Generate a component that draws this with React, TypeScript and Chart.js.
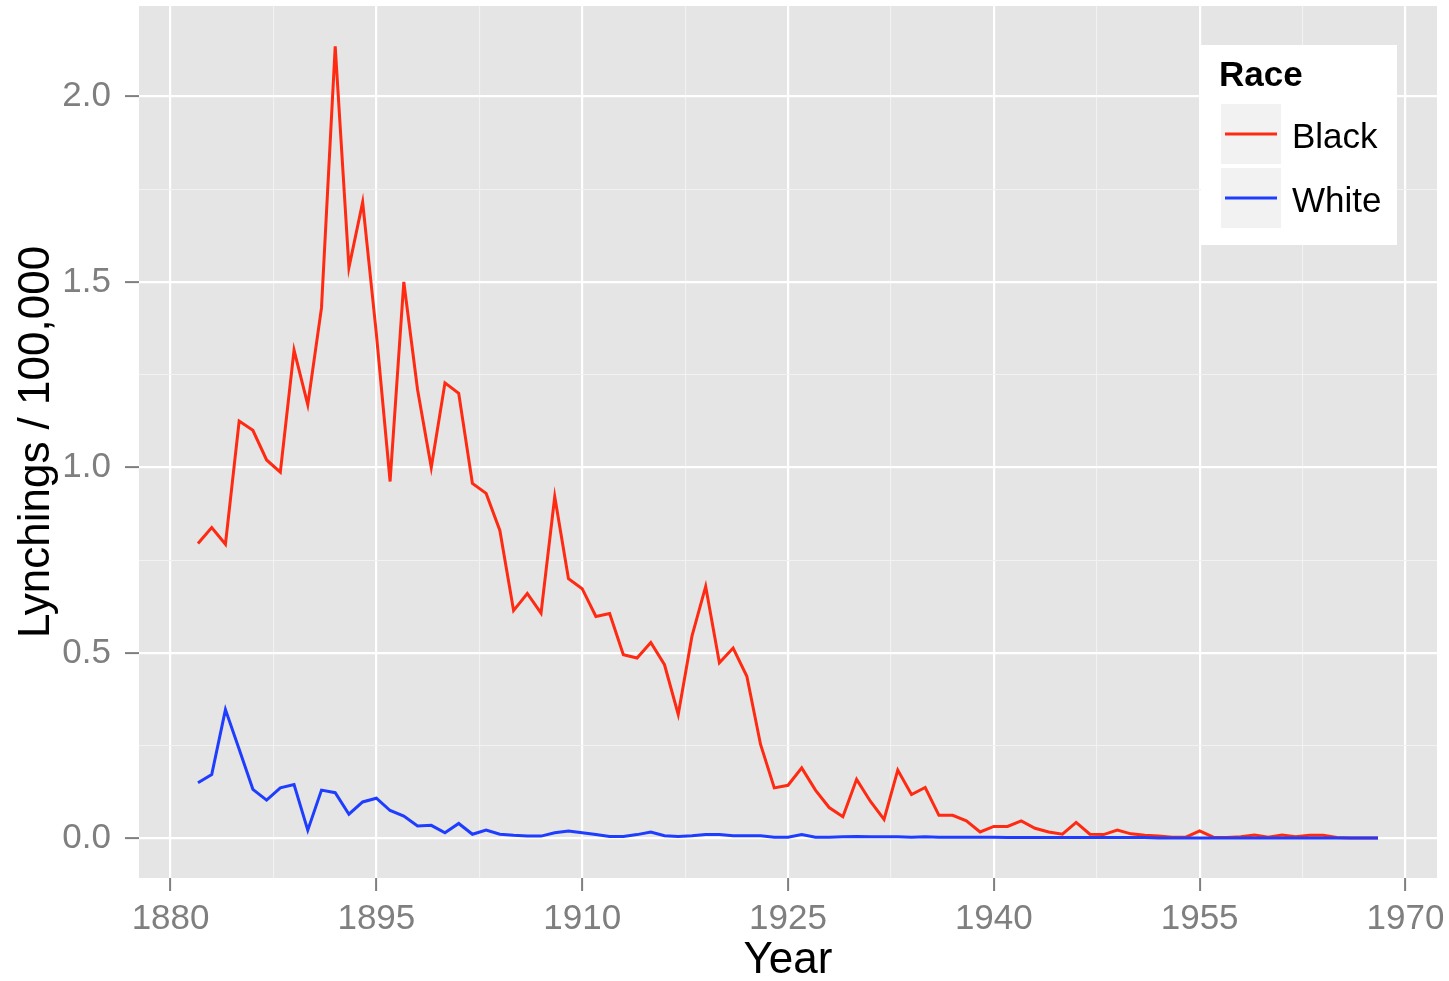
import React, { useEffect, useRef } from "react";
import { Chart, registerables } from "chart.js";

Chart.register(...registerables);

const years = [
  1882, 1883, 1884, 1885, 1886, 1887, 1888, 1889, 1890, 1891,
  1892, 1893, 1894, 1895, 1896, 1897, 1898, 1899, 1900, 1901,
  1902, 1903, 1904, 1905, 1906, 1907, 1908, 1909, 1910, 1911,
  1912, 1913, 1914, 1915, 1916, 1917, 1918, 1919, 1920, 1921,
  1922, 1923, 1924, 1925, 1926, 1927, 1928, 1929, 1930, 1931,
  1932, 1933, 1934, 1935, 1936, 1937, 1938, 1939, 1940, 1941,
  1942, 1943, 1944, 1945, 1946, 1947, 1948, 1949, 1950, 1951,
  1952, 1953, 1954, 1955, 1956, 1957, 1958, 1959, 1960, 1961,
  1962, 1963, 1964, 1965, 1966, 1967, 1968,
];

const blackRate = [
  0.795, 0.838, 0.793, 1.125, 1.1, 1.02, 0.987, 1.316, 1.169, 1.43,
  2.135, 1.539, 1.715, 1.36, 0.962, 1.5, 1.21, 1.0, 1.228, 1.2,
  0.957, 0.93, 0.83, 0.614, 0.66, 0.607, 0.921, 0.7, 0.673, 0.598,
  0.606, 0.495, 0.486, 0.528, 0.468, 0.334, 0.545, 0.679, 0.473, 0.513,
  0.437, 0.253, 0.136, 0.143, 0.19, 0.13, 0.083, 0.058, 0.159, 0.1,
  0.051, 0.184, 0.118, 0.137, 0.062, 0.062, 0.047, 0.017, 0.032, 0.032,
  0.047, 0.027, 0.017, 0.011, 0.043, 0.011, 0.01, 0.022, 0.012, 0.008,
  0.006, 0.003, 0.003, 0.02, 0.003, 0.002, 0.004, 0.009, 0.003, 0.009,
  0.004, 0.008, 0.008, 0.002, 0.001, 0.001, 0.001,
];

const whiteRate = [
  0.15, 0.172, 0.347, 0.24, 0.132, 0.103, 0.136, 0.145, 0.022, 0.13,
  0.123, 0.065, 0.098, 0.108, 0.075, 0.06, 0.033, 0.035, 0.015, 0.04,
  0.011, 0.022, 0.011, 0.008, 0.006, 0.006, 0.015, 0.02, 0.015, 0.01,
  0.005, 0.005, 0.01, 0.017, 0.007, 0.005, 0.007, 0.01, 0.01, 0.007,
  0.007, 0.007, 0.003, 0.003, 0.01, 0.003, 0.003, 0.004, 0.005, 0.004,
  0.004, 0.004, 0.003, 0.004, 0.003, 0.003, 0.003, 0.003, 0.003, 0.002,
  0.002, 0.002, 0.002, 0.002, 0.002, 0.002, 0.002, 0.002, 0.002, 0.002,
  0.001, 0.001, 0.001, 0.001, 0.001, 0.001, 0.001, 0.001, 0.001, 0.001,
  0.001, 0.001, 0.001, 0.001, 0.001, 0.001, 0.001,
];

const seriesNames = ["Black", "White"];
const seriesColors = ["#FF2A12", "#1F3DFF"];
const legendTitle = "Race";
const xTitle = "Year";
const yTitle = "Lynchings / 100,000";

const xMajorTicks = [1880, 1895, 1910, 1925, 1940, 1955, 1970];
const yMajorTicks = [0, 0.5, 1.0, 1.5, 2.0];

const X_MIN = 1877.7;
const X_MAX = 1972.3;
const Y_MIN = -0.107;
const Y_MAX = 2.244;

const FONT = '"Liberation Sans", Arial, Helvetica, sans-serif';

function withMinors(major: number[]) {
  const out: number[] = [];
  for (let i = 0; i < major.length; i++) {
    out.push(major[i]);
    if (i < major.length - 1) out.push((major[i] + major[i + 1]) / 2);
  }
  return out;
}

const isMajor = (list: number[], v: number) =>
  list.some((m) => Math.abs(m - v) < 1e-9);

const panelBg = {
  id: "panelBg",
  beforeDraw(chart: any) {
    const { ctx, chartArea, width, height } = chart;
    ctx.save();
    ctx.fillStyle = "#FFFFFF";
    ctx.fillRect(0, 0, width, height);
    ctx.fillStyle = "#E5E5E5";
    ctx.fillRect(
      chartArea.left,
      chartArea.top,
      chartArea.right - chartArea.left,
      chartArea.bottom - chartArea.top
    );
    ctx.restore();
  },
};

const ggLegend = {
  id: "ggLegend",
  afterDraw(chart: any) {
    const { ctx } = chart;
    ctx.save();
    ctx.fillStyle = "#FFFFFF";
    ctx.fillRect(1201, 45, 196, 200);
    ctx.fillStyle = "#000000";
    ctx.textBaseline = "alphabetic";
    ctx.textAlign = "left";
    ctx.font = `bold 35px ${FONT}`;
    ctx.fillText(legendTitle, 1219, 86);
    seriesNames.forEach((name, i) => {
      const top = 104 + i * 64;
      ctx.fillStyle = "#F2F2F2";
      ctx.fillRect(1221, top, 60, 60);
      ctx.strokeStyle = seriesColors[i];
      ctx.lineWidth = 3;
      ctx.beginPath();
      ctx.moveTo(1225, top + 30);
      ctx.lineTo(1277, top + 30);
      ctx.stroke();
      ctx.fillStyle = "#000000";
      ctx.font = `35px ${FONT}`;
      ctx.fillText(name, 1292, top + 44);
    });
    ctx.restore();
  },
};

export default function App() {
  const canvasRef = useRef<HTMLCanvasElement | null>(null);

  useEffect(() => {
    const canvas = canvasRef.current;
    if (!canvas) return;
    const xAll = withMinors(xMajorTicks);
    const yAll = withMinors(yMajorTicks);

    const chart = new Chart(canvas, {
      type: "line",
      data: {
        datasets: [
          {
            label: seriesNames[0],
            data: years.map((yr, i) => ({ x: yr, y: blackRate[i] })),
            borderColor: seriesColors[0],
            backgroundColor: seriesColors[0],
            borderWidth: 3,
            pointRadius: 0,
            tension: 0,
            order: 2,
          },
          {
            label: seriesNames[1],
            data: years.map((yr, i) => ({ x: yr, y: whiteRate[i] })),
            borderColor: seriesColors[1],
            backgroundColor: seriesColors[1],
            borderWidth: 3,
            pointRadius: 0,
            tension: 0,
            order: 1,
          },
        ],
      },
      options: {
        responsive: false,
        animation: false,
        devicePixelRatio: 1,
        layout: { padding: { left: 0, top: 6, right: 12, bottom: 0 } },
        plugins: {
          legend: { display: false },
          tooltip: { enabled: false },
        },
        scales: {
          x: {
            type: "linear",
            min: X_MIN,
            max: X_MAX,
            afterBuildTicks: (s: any) => {
              s.ticks = xAll.map((v) => ({ value: v }));
            },
            afterFit: (s: any) => {
              s.height = 103;
              s.paddingLeft = 0;
              s.paddingRight = 0;
            },
            ticks: {
              autoSkip: false,
              maxRotation: 0,
              minRotation: 0,
              padding: 7,
              color: "#7F7F7F",
              font: { family: FONT, size: 35 },
              callback: (v: any) => (isMajor(xMajorTicks, Number(v)) ? String(v) : ""),
            },
            grid: {
              color: (c: any) => (isMajor(xMajorTicks, c.tick?.value) ? "#FFFFFF" : "#F2F2F2"),
              lineWidth: (c: any) => (isMajor(xMajorTicks, c.tick?.value) ? 2.2 : 1.1),
              tickColor: (c: any) =>
                isMajor(xMajorTicks, c.tick?.value) ? "#7F7F7F" : "rgba(0,0,0,0)",
              tickLength: 13,
              tickWidth: 2,
            },
            border: { display: false },
            title: {
              display: true,
              text: xTitle,
              color: "#000000",
              font: { family: FONT, size: 44, lineHeight: 0.9 },
              padding: { top: 0, bottom: 0 },
            },
          },
          y: {
            type: "linear",
            min: Y_MIN,
            max: Y_MAX,
            afterBuildTicks: (s: any) => {
              s.ticks = yAll.map((v) => ({ value: v }));
            },
            afterFit: (s: any) => {
              s.width = 139;
              s.paddingTop = 0;
              s.paddingBottom = 0;
            },
            ticks: {
              autoSkip: false,
              padding: 14,
              color: "#7F7F7F",
              font: { family: FONT, size: 35 },
              callback: (v: any) =>
                isMajor(yMajorTicks, Number(v)) ? Number(v).toFixed(1) : "",
            },
            grid: {
              color: (c: any) => (isMajor(yMajorTicks, c.tick?.value) ? "#FFFFFF" : "#F2F2F2"),
              lineWidth: (c: any) => (isMajor(yMajorTicks, c.tick?.value) ? 2.2 : 1.1),
              tickColor: (c: any) =>
                isMajor(yMajorTicks, c.tick?.value) ? "#7F7F7F" : "rgba(0,0,0,0)",
              tickLength: 14,
              tickWidth: 2,
            },
            border: { display: false },
            title: {
              display: true,
              text: yTitle,
              color: "#000000",
              font: { family: FONT, size: 44 },
              padding: { top: 10, bottom: 0 },
            },
          },
        },
      },
      plugins: [panelBg, ggLegend],
    } as any);

    return () => chart.destroy();
  }, []);

  return (
    <div
      style={{
        position: "fixed",
        left: 0,
        top: 0,
        width: 1449,
        height: 981,
        background: "#FFFFFF",
      }}
    >
      <canvas ref={canvasRef} width={1449} height={981} style={{ display: "block" }} />
    </div>
  );
}
